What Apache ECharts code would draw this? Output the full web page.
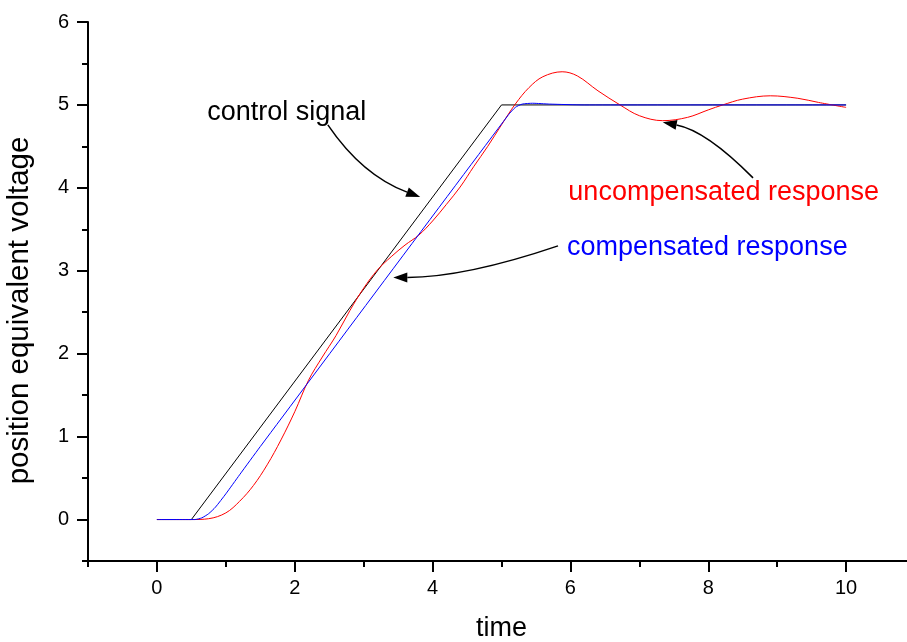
<!DOCTYPE html>
<html>
<head>
<meta charset="utf-8">
<script src="https://cdn.jsdelivr.net/npm/echarts@6/dist/echarts.min.js"></script>
<style>
  html, body { margin: 0; padding: 0; background: #fff; }
  #chart { width: 907px; height: 642px; }
</style>
</head>
<body>
<div id="chart"></div>
<script>
// data
var controlT = [0, 0.5, 5, 10];
var controlV = [0, 0, 5, 5];

var uncompT = [0, 0.5, 0.75, 1.0, 1.2, 1.4, 1.6, 1.8, 2.0, 2.2, 2.4, 2.6, 2.8, 3.0, 3.2, 3.4, 3.6, 3.8,
               4.0, 4.2, 4.4, 4.6, 4.8, 5.0, 5.2, 5.4, 5.6, 5.88, 6.1, 6.4, 6.72, 7.0, 7.34, 7.7,
               8.0, 8.21, 8.5, 8.9, 9.3, 9.6, 10];
var uncompV = [0, 0, 0.01, 0.08, 0.22, 0.41, 0.66, 0.96, 1.30, 1.68, 1.96, 2.22, 2.52, 2.79, 3.01, 3.17, 3.31, 3.43,
               3.60, 3.80, 4.01, 4.26, 4.50, 4.76, 5.01, 5.21, 5.34, 5.40, 5.35, 5.17, 5.00, 4.87, 4.81, 4.85,
               4.94, 5.00, 5.07, 5.11, 5.08, 5.03, 4.97];

var compT = [0, 0.55, 0.65, 0.75, 0.85, 1.0, 1.2, 1.5, 5.1, 5.2, 5.3, 5.45, 5.7, 6.2, 10];
var compV = [0, 0, 0.02, 0.07, 0.15, 0.31, 0.54, 0.88, 4.88, 4.97, 5.01, 5.02, 5.01, 5.0, 5.0];

var xMajor = [0, 2, 4, 6, 8, 10];
var xMinor = [-1, 1, 3, 5, 7, 9];
var yMajor = [0, 1, 2, 3, 4, 5, 6];
var yMinor = [-0.5, 0.5, 1.5, 2.5, 3.5, 4.5, 5.5];

// annotations: text anchor and arrow (start, control, tip) in data units
var notes = [
  { text: 'control signal', color: '#000', at: [0.73, 4.75], arrow: [[2.48, 4.76], [2.98, 4.15], [3.82, 3.89]] },
  { text: 'uncompensated response', color: '#ff0000', at: [5.97, 3.78], arrow: [[8.65, 4.12], [7.97, 4.69], [7.34, 4.79]] },
  { text: 'compensated response', color: '#0000ff', at: [5.95, 3.12], arrow: [[5.82, 3.30], [4.47, 2.92], [3.43, 2.92]] }
];

function pairs(t, v) {
  return t.map(function (x, i) { return [x, v[i]]; });
}

var font = "'Liberation Sans', Arial, sans-serif";
var chart = echarts.init(document.getElementById('chart'));

chart.setOption({
  animation: false,
  backgroundColor: '#fff',
  grid: { left: 88, right: -8, top: 22, bottom: 81, outerBoundsMode: 'none', containLabel: false },
  xAxis: [
    {
      type: 'value', min: -1, max: 11, interval: 1,
      name: 'time', nameLocation: 'middle', nameGap: 54,
      nameTextStyle: { fontFamily: font, fontSize: 27, color: '#000' },
      axisLine: { onZero: false, lineStyle: { color: '#000', width: 2 } },
      axisTick: { customValues: xMajor, length: 11, lineStyle: { color: '#000', width: 2 } },
      axisLabel: { customValues: xMajor, margin: 17, fontFamily: font, fontSize: 20, color: '#000' },
      splitLine: { show: false }
    },
    {
      type: 'value', min: -1, max: 11, interval: 1, position: 'bottom',
      axisLine: { show: false, onZero: false },
      axisTick: { customValues: xMinor, length: 6, lineStyle: { color: '#000', width: 2 } },
      axisLabel: { show: false },
      splitLine: { show: false }
    }
  ],
  yAxis: [
    {
      type: 'value', min: -0.5, max: 6, interval: 0.5,
      name: 'position equivalent voltage', nameLocation: 'middle', nameGap: 53,
      nameTextStyle: { fontFamily: font, fontSize: 29.5, color: '#000', padding: [0, 38, 0, 0] },
      axisLine: { onZero: false, lineStyle: { color: '#000', width: 2 } },
      axisTick: { customValues: yMajor, length: 11, lineStyle: { color: '#000', width: 2 } },
      axisLabel: { customValues: yMajor, margin: 19, fontFamily: font, fontSize: 20, color: '#000' },
      splitLine: { show: false }
    },
    {
      type: 'value', min: -0.5, max: 6, interval: 0.5, position: 'left',
      axisLine: { show: false, onZero: false },
      axisTick: { customValues: yMinor, length: 6, lineStyle: { color: '#000', width: 2 } },
      axisLabel: { show: false },
      splitLine: { show: false }
    }
  ],
  series: [
    {
      name: 'control signal', type: 'line', data: pairs(controlT, controlV),
      showSymbol: false, lineStyle: { color: '#000', width: 1 }
    },
    {
      name: 'uncompensated response', type: 'line', data: pairs(uncompT, uncompV),
      showSymbol: false, smooth: 0.35, lineStyle: { color: '#ff0000', width: 1 }
    },
    {
      name: 'compensated response', type: 'line', data: pairs(compT, compV),
      showSymbol: false, smooth: 0.2, lineStyle: { color: '#0000ff', width: 1 }
    }
  ]
});

// text labels and curved arrows
function px(p) {
  return chart.convertToPixel({ xAxisIndex: 0, yAxisIndex: 0 }, p);
}

var graphics = [];
notes.forEach(function (n) {
  var a = px(n.at);
  graphics.push({
    type: 'text', x: a[0], y: a[1],
    style: { text: n.text, fill: n.color, font: '27px ' + font, textVerticalAlign: 'bottom' }
  });
  var s = px(n.arrow[0]), c = px(n.arrow[1]), t = px(n.arrow[2]);
  var dx = t[0] - c[0], dy = t[1] - c[1];
  var len = Math.sqrt(dx * dx + dy * dy);
  dx /= len; dy /= len;
  var L = 14, W = 5;
  var base = [t[0] - L * dx, t[1] - L * dy];
  graphics.push({
    type: 'bezierCurve',
    shape: { x1: s[0], y1: s[1], cpx1: c[0], cpy1: c[1], x2: base[0], y2: base[1] },
    style: { stroke: '#000', lineWidth: 1.5, fill: null }
  });
  graphics.push({
    type: 'polygon',
    shape: { points: [t, [base[0] - W * dy, base[1] + W * dx], [base[0] + W * dy, base[1] - W * dx]] },
    style: { fill: '#000' }
  });
});
chart.setOption({ graphic: graphics });
</script>
</body>
</html>
